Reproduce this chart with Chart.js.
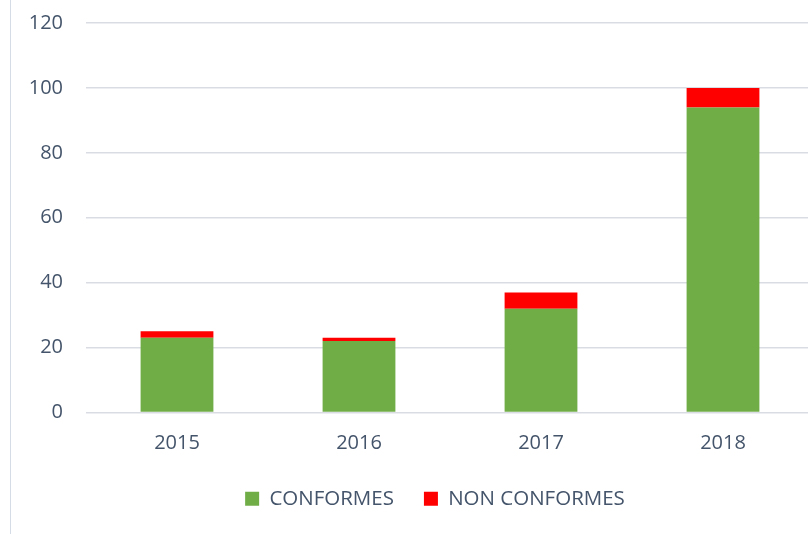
<!DOCTYPE html>
<html><head><meta charset="utf-8">
<script src="https://cdn.jsdelivr.net/npm/chart.js@4"></script>
<style>
html,body{margin:0;padding:0;background:#fff;overflow:hidden;}
#wrap{position:relative;width:808px;height:534px;overflow:hidden;}
#line{position:absolute;left:10px;top:0;width:1px;height:534px;background:#d6dce5;}
#cv{position:absolute;left:0;top:0;}
</style></head>
<body>
<div id="wrap"><div id="line"></div><canvas id="cv" width="814" height="534"></canvas></div>
<script>
const categories = ["2015","2016","2017","2018"];
const conformes = [23,22,32,94];
const nonConformes = [2,1,5,6];
const yTicks = [0,20,40,60,80,100,120];

const textColor = '#44546a';
const fontFamily = "'Open Sans', 'Liberation Sans', sans-serif";

const shiftLegend = {
  id:'shiftLegend',
  afterLayout(chart){ if(chart.legend){ chart.legend.left += 28; chart.legend.right += 28; if(chart.legend.adjustHitBoxes) chart.legend.adjustHitBoxes(); } }
};

const cv = document.getElementById('cv');
cv.style.width='814px'; cv.style.height='534px';
new Chart(cv, {
  type:'bar',
  data:{
    labels:categories,
    datasets:[
      {label:'CONFORMES', data:conformes, backgroundColor:'#70ad47', borderWidth:0, categoryPercentage:1, barPercentage:0.4},
      {label:'NON CONFORMES', data:nonConformes, backgroundColor:'#ff0000', borderWidth:0, categoryPercentage:1, barPercentage:0.4}
    ]
  },
  plugins:[shiftLegend],
  options:{
    responsive:false, animation:false, devicePixelRatio:1,
    layout:{padding:{top:23,left:0,right:0,bottom:15}},
    plugins:{
      tooltip:{enabled:false},
      legend:{
        position:'bottom',
        labels:{color:textColor, font:{family:fontFamily,size:20.5}, boxWidth:14, boxHeight:14, padding:30},
      }
    },
    scales:{
      x:{
        stacked:true,
        grid:{display:false, drawTicks:false},
        border:{display:false},
        ticks:{color:textColor, font:{family:fontFamily,size:20}, padding:19},
        afterFit:s=>{s.height=46;}
      },
      y:{
        stacked:true, min:0, max:120,
        afterBuildTicks:s=>{s.ticks=yTicks.map(v=>({value:v}));},
        grid:{color:'#d9dde3', lineWidth:1.5, drawTicks:true, tickLength:23, tickColor:'rgba(0,0,0,0)'},
        border:{display:false},
        ticks:{color:textColor, font:{family:fontFamily,size:20}, padding:0},
        afterFit:s=>{s.width=86;}
      }
    }
  }
});
</script>
</body></html>
